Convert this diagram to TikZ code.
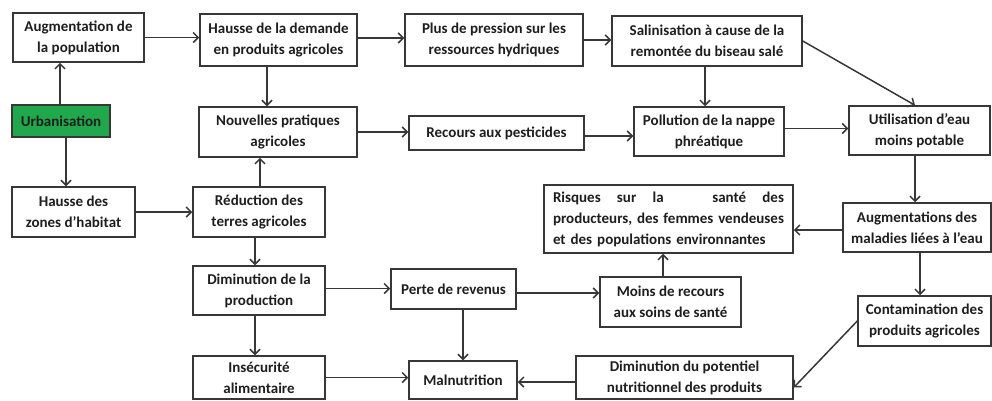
\documentclass[tikz,border=0pt]{standalone}
\usepackage{fontspec}
\setmainfont{Carlito}
\usetikzlibrary{arrows.meta}
\definecolor{ln}{RGB}{55,55,55}
\definecolor{tx}{RGB}{30,30,30}
\definecolor{urbgreen}{RGB}{34,168,76}
\begin{document}
\begin{tikzpicture}[x=1pt,y=-1pt,
  box/.style={draw=ln,line width=1.5pt,fill=white,inner sep=0pt,align=center,
    text=tx,font=\fontsize{15}{21}\selectfont\bfseries},
  arr/.style={draw=ln,line width=1.5pt,-{Straight Barb[length=5pt,width=10pt]}}]
\useasboundingbox (0,0) rectangle (992,400);
\node[box,minimum width=131pt,minimum height=49pt] (aug) at (78.5,37.5) {Augmentation de\\la population};
\node[box,minimum width=157pt,minimum height=52pt] (hdem) at (278.5,40) {Hausse de la demande\\en produits agricoles};
\node[box,minimum width=178pt,minimum height=52pt] (plus) at (494,40) {Plus de pression sur les\\ressources hydriques};
\node[box,minimum width=190pt,minimum height=50pt] (sal) at (707,41) {Salinisation à cause de la\\remontée du biseau salé};
\node[box,fill=urbgreen,minimum width=98pt,minimum height=32pt] (urb) at (61,121) {Urbanisation};
\node[box,minimum width=158pt,minimum height=50pt] (nouv) at (278,132) {Nouvelles pratiques\\agricoles};
\node[box,minimum width=175pt,minimum height=34pt] (rec) at (496.5,133) {Recours aux pesticides};
\node[box,minimum width=150pt,minimum height=49pt] (poll) at (709,131.5) {Pollution de la nappe\\phréatique};
\node[box,minimum width=141pt,minimum height=49pt] (util) at (919.5,130.5) {Utilisation d’eau\\moins potable};
\node[box,minimum width=123pt,minimum height=50pt] (hzon) at (73.5,212) {Hausse des\\zones d’habitat};
\node[box,minimum width=132pt,minimum height=50pt] (red) at (259,212) {Réduction des\\terres agricoles};
\node[box,minimum width=249pt,minimum height=68pt,text width=231pt,align=left] (risq) at (668.5,219)
  {\makebox[231pt][l]{Risques\hfill sur\hfill la\hfill\hfill\hfill santé\hfill des}\\
   \makebox[231pt][l]{producteurs,\hfill des\hfill femmes\hfill vendeuses}\\
   et des populations environnantes};
\node[box,minimum width=148pt,minimum height=49pt] (augm) at (917,227.5) {Augmentations des\\maladies liées à l’eau};
\node[box,minimum width=132pt,minimum height=49pt] (dim) at (259,290.5) {Diminution de la\\production};
\node[box,minimum width=125pt,minimum height=40pt] (perte) at (453.5,289) {Perte de revenus};
\node[box,minimum width=141pt,minimum height=50pt] (moins) at (670.5,302) {Moins de recours\\aux soins de santé};
\node[box,minimum width=133pt,minimum height=50pt] (cont) at (924.5,321) {Contamination des\\produits agricoles};
\node[box,minimum width=132pt,minimum height=43pt] (insec) at (259,377.5) {Insécurité\\alimentaire};
\node[box,minimum width=108pt,minimum height=38pt] (maln) at (463,380) {Malnutrition};
\node[box,minimum width=217pt,minimum height=43pt] (dpot) at (684.5,377.5) {Diminution du potentiel\\nutritionnel des produits};
% connectors
\draw[arr] ([xshift=-1pt]urb.north) -- ([xshift=-1pt]urb.north |- aug.south);
\draw[arr] ([xshift=5pt]urb.south) -- ([xshift=5pt]urb.south |- hzon.north);
\draw[arr] (aug.east) -- (hdem.west |- aug.east);
\draw[arr] ([yshift=2pt]hdem.east) -- ([yshift=2pt]hdem.east -| plus.west);
\draw[arr] (plus.east) -- (plus.east -| sal.west);
\draw[arr] (sal.east) -- ([xshift=-4.5pt]util.north);
\draw[arr] ([xshift=-2pt]sal.south) -- ([xshift=-2pt]sal.south |- poll.north);
\draw[arr] ([xshift=-11.5pt]hdem.south) -- ([xshift=-11.5pt]hdem.south |- nouv.north);
\draw[arr] ([xshift=1pt]red.north) -- ([xshift=1pt]red.north |- nouv.south);
\draw[arr] (nouv.east) -- (nouv.east -| rec.west);
\draw[arr] ([yshift=-3pt]rec.east) -- ([yshift=-3pt]rec.east -| poll.west);
\draw[arr] ([yshift=3pt]poll.east) -- ([yshift=3pt]poll.east -| util.west);
\draw[arr] ([xshift=-4.5pt]util.south) -- ([xshift=-4.5pt]util.south |- augm.north);
\draw[arr] (hzon.east) -- (hzon.east -| red.west);
\draw[arr] ([xshift=-4pt]red.south) -- ([xshift=-4pt]red.south |- dim.north);
\draw[arr] ([yshift=2pt]dim.east) -- ([yshift=2pt]dim.east -| perte.west);
\draw[arr] ([xshift=-4pt]dim.south) -- ([xshift=-4pt]dim.south |- insec.north);
\draw[arr] (perte.south -| maln.north) -- (maln.north);
\draw[arr] ([yshift=-4pt]perte.east) -- ([yshift=-4pt]perte.east -| moins.west);
\draw[arr] ([xshift=-7.5pt]moins.north) -- ([xshift=-7.5pt]moins.north |- risq.south);
\draw[arr] ([yshift=-2.5pt]augm.west) -- ([yshift=-2.5pt]augm.west -| risq.east);
\draw[arr] ([xshift=3pt]augm.south) -- ([xshift=3pt]augm.south |- cont.north);
\draw[arr] (cont.west) -- ([yshift=-10pt]dpot.east);
\draw[arr] ([yshift=-4.5pt]dpot.west) -- ([yshift=-4.5pt]dpot.west -| maln.east);
\draw[arr] (insec.east) -- (insec.east -| maln.west);
\end{tikzpicture}
\end{document}
